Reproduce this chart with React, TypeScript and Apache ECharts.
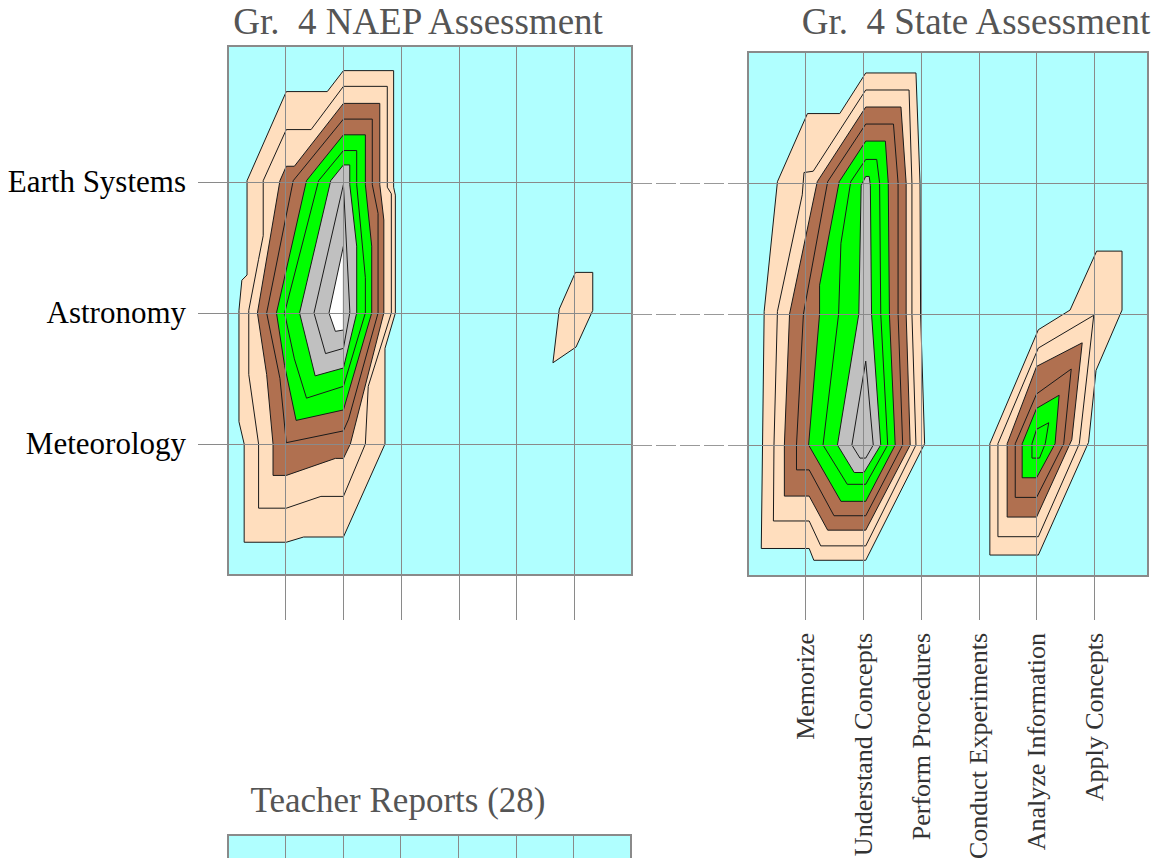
import { useEffect, useRef } from 'react';
import * as echarts from 'echarts';

// ---------- categories ----------
const demands = ['Memorize', 'Understand Concepts', 'Perform Procedures', 'Conduct Experiments', 'Analyze Information', 'Apply Concepts'];
const topics = ['Earth Systems', 'Astronomy', 'Meteorology'];
const demandTicks = [1, 2, 3, 4, 5, 6];
const topicTicks = [1, 2, 3];

// contour level fill colours (level 1 = outermost)
const levelColors = ['#FFDEBE', '#FFDEBE', '#B07050', '#B07050', '#00FF00', '#00FF00', '#C0C0C0', '#C0C0C0', '#FFFFFF'];

// ---------- Gr. 4 NAEP contours: [demand, topic] ----------
const naepL1 = [[2.0,0.15],[2.87,0.15],[2.87,1.04],[2.90,1.10],[2.90,2.0],[2.72,2.27],[2.72,3.0],[2.0,3.71],[1.31,3.71],[1.01,3.75],[0.28,3.75],[0.28,3.0],[0.19,2.83],[0.19,1.98],[0.24,1.75],[0.33,1.71],[0.33,0.99],[1.01,0.31],[1.72,0.31]];
const naepL2 = [[2.0,0.27],[2.76,0.27],[2.76,1.04],[2.83,1.09],[2.83,2.0],[2.43,2.56],[2.38,3.0],[2.0,3.40],[1.61,3.40],[1.01,3.49],[0.53,3.49],[0.53,3.0],[0.36,2.47],[0.36,1.98],[0.53,1.59],[0.61,1.41],[0.61,0.99],[1.01,0.6],[1.44,0.6]];
const naepL3 = [[2.0,0.40],[2.63,0.40],[2.63,1.02],[2.70,1.29],[2.70,2.0],[2.12,3.0],[2.0,3.11],[1.86,3.11],[1.01,3.24],[0.78,3.24],[0.78,3.0],[0.67,2.47],[0.51,2.0],[0.90,0.99],[1.01,0.88],[1.15,0.88]];
const naepL4 = [[2.0,0.52],[2.5,0.52],[2.5,1.02],[2.6,1.24],[2.6,2.0],[2.09,2.81],[2.0,2.90],[1.01,2.99],[0.9,2.5],[0.67,2.0],[1.13,0.99]];
const naepL5 = [[2.0,0.64],[2.38,0.64],[2.38,1.02],[2.49,1.49],[2.49,2.0],[2.0,2.74],[1.18,2.82],[0.98,2.4],[0.84,2.0],[1.36,0.99]];
const naepL6 = [[2.0,0.76],[2.23,0.76],[2.23,1.02],[2.38,1.73],[2.38,2.0],[2.0,2.56],[1.36,2.65],[1.15,2.35],[0.98,2.0],[1.57,0.99]];
const naepL7 = [[2.0,0.87],[2.11,0.87],[2.11,1.02],[2.23,1.49],[2.23,2.0],[2.0,2.42],[1.51,2.48],[1.24,2.0],[1.78,0.99]];
const naepL8 = [[2.0,1.02],[2.11,1.98],[2.11,2.0],[2.0,2.27],[1.69,2.31],[1.49,2.0]];
const naepL9 = [[2.0,1.49],[2.0,2.13],[1.86,2.14],[1.75,2.0]];
const naepApplyL1 = [[6.02,1.69],[6.32,1.69],[6.32,1.98],[6.03,2.26],[5.63,2.38],[5.74,1.97]];

// ---------- Gr. 4 State contours ----------
const stateL1 = [[2.04,0.16],[2.91,0.16],[2.98,1.0],[2.99,2.0],[3.06,2.99],[2.04,3.88],[1.14,3.88],[1.06,3.79],[0.23,3.79],[0.28,1.98],[0.51,0.99],[1.03,0.47],[1.59,0.47]];
const stateL2 = [[2.04,0.29],[2.79,0.29],[2.84,1.0],[2.84,2.0],[2.91,3.0],[2.04,3.77],[1.26,3.77],[1.06,3.58],[0.44,3.58],[0.45,3.0],[0.51,1.98],[0.94,1.09],[0.97,0.92],[1.13,0.91]];
const stateL3 = [[2.04,0.42],[2.65,0.42],[2.74,1.0],[2.74,2.0],[2.81,3.0],[2.04,3.65],[1.38,3.65],[1.06,3.39],[0.63,3.39],[0.63,3.0],[0.72,2.0],[1.20,0.99]];
const stateL4 = [[2.04,0.55],[2.52,0.55],[2.6,1.0],[2.6,2.0],[2.68,3.0],[2.04,3.54],[1.49,3.54],[1.06,3.19],[0.84,3.19],[0.84,3.0],[0.96,2.0],[1.38,0.99]];
const stateL5 = [[2.04,0.68],[2.38,0.68],[2.43,1.0],[2.45,2.0],[2.55,3.0],[2.04,3.43],[1.61,3.43],[1.05,3.0],[1.24,2.0],[1.24,1.78],[1.58,0.99]];
const stateL6 = [[2.04,0.82],[2.23,0.82],[2.28,1.0],[2.3,2.0],[2.42,3.0],[2.04,3.30],[1.72,3.30],[1.30,3.0],[1.57,2.0],[1.61,1.46],[1.78,0.99]];
const stateL7 = [[2.04,0.95],[2.10,0.95],[2.12,1.02],[2.14,2.0],[2.30,3.0],[2.01,3.21],[1.84,3.21],[1.55,3.0],[1.92,2.0],[1.96,1.02]];
const stateL8 = [[2.04,2.36],[2.17,3.0],[2.04,3.10],[1.94,3.10],[1.80,3.0]];
const stateAnalyzeL1 = [[6.04,1.52],[6.48,1.52],[6.48,1.97],[6.03,2.43],[5.90,2.98],[5.03,3.84],[4.19,3.84],[4.19,2.99],[5.03,2.12],[5.58,1.97]];
const stateAnalyzeL2 = [[5.99,2.01],[5.74,2.99],[5.03,3.70],[4.33,3.70],[4.33,2.99],[5.03,2.26]];
const stateAnalyzeL3 = [[5.0,2.40],[5.79,2.22],[5.61,2.96],[5.0,3.55],[4.49,3.55],[4.49,2.99]];
const stateAnalyzeL4 = [[5.0,2.61],[5.60,2.42],[5.47,2.99],[5.0,3.40],[4.63,3.40],[4.63,2.99]];
const stateAnalyzeL5 = [[5.0,2.72],[5.39,2.62],[5.32,2.99],[5.0,3.25],[4.75,3.25],[4.75,2.99]];
const stateAnalyzeL6 = [[5.0,2.88],[5.21,2.83],[5.15,2.99],[5.05,3.10],[4.92,3.10],[4.92,2.99]];

const naepContours = [
  { level: 1, points: naepL1 }, { level: 2, points: naepL2 }, { level: 3, points: naepL3 },
  { level: 4, points: naepL4 }, { level: 5, points: naepL5 }, { level: 6, points: naepL6 },
  { level: 7, points: naepL7 }, { level: 8, points: naepL8 }, { level: 9, points: naepL9 },
  { level: 1, points: naepApplyL1 },
];
const stateContours = [
  { level: 1, points: stateL1 }, { level: 2, points: stateL2 }, { level: 3, points: stateL3 },
  { level: 4, points: stateL4 }, { level: 5, points: stateL5 }, { level: 6, points: stateL6 },
  { level: 7, points: stateL7 }, { level: 8, points: stateL8 },
  { level: 1, points: stateAnalyzeL1 }, { level: 2, points: stateAnalyzeL2 }, { level: 3, points: stateAnalyzeL3 },
  { level: 4, points: stateAnalyzeL4 }, { level: 5, points: stateAnalyzeL5 }, { level: 6, points: stateAnalyzeL6 },
];

const CYAN = '#B0FFFF';
const GRID_GRAY = '#8a8a8a';
const SERIF = '"Liberation Serif", "Times New Roman", serif';

function contourSeries(contours: any[], axisIndex: number) {
  return {
    type: 'custom',
    coordinateSystem: 'cartesian2d',
    xAxisIndex: axisIndex,
    yAxisIndex: axisIndex,
    clip: true,
    silent: true,
    z: 2,
    data: contours.map((c, i) => [c.points[0][0], c.points[0][1], i]),
    renderItem: (params: any, api: any) => {
      const c = contours[params.dataIndex];
      const pts = c.points.map((p: number[]) => api.coord(p));
      return {
        type: 'polygon',
        shape: { points: pts },
        style: { fill: levelColors[c.level - 1], stroke: '#1a1a1a', lineWidth: 1 },
      };
    },
  };
}

export default function App() {
  const ref = useRef<HTMLDivElement>(null);
  useEffect(() => {
    if (!ref.current) return;
    const chart = echarts.init(ref.current, undefined, { renderer: 'svg' });
    const splitLine = { show: true, lineStyle: { color: GRID_GRAY, width: 1 } };
    const hiddenLine = { show: false, onZero: false };
    const gridBase = { show: true, backgroundColor: CYAN, borderColor: GRID_GRAY, borderWidth: 2, containLabel: false, outerBoundsMode: 'none' };
    const option: any = {
      animation: false,
      backgroundColor: '#ffffff',
      grid: [
        { ...gridBase, left: 228, top: 46, width: 404, height: 529 },
        { ...gridBase, left: 748, top: 52, width: 400, height: 524 },
        { ...gridBase, left: 228, top: 835, width: 403, height: 200 },
      ],
      xAxis: [
        {
          gridIndex: 0, type: 'value', min: 0, max: 7, z: 3, position: 'bottom',
          axisLine: hiddenLine,
          axisTick: { show: true, customValues: demandTicks, length: 45, lineStyle: { color: GRID_GRAY } },
          axisLabel: { show: false },
          splitLine,
        },
        {
          gridIndex: 1, type: 'value', min: 0, max: 6.93, z: 3, position: 'bottom',
          axisLine: hiddenLine,
          axisTick: { show: true, customValues: demandTicks, length: 44, lineStyle: { color: GRID_GRAY } },
          axisLabel: {
            show: true, customValues: demandTicks, rotate: 90, margin: 57,
            formatter: (v: number) => demands[Math.round(v) - 1] ?? '',
            fontFamily: SERIF, fontSize: 26, color: '#333',
          },
          splitLine,
        },
        {
          gridIndex: 2, type: 'value', min: 0, max: 7, z: 3, position: 'bottom',
          axisLine: hiddenLine,
          axisTick: { show: false, customValues: demandTicks },
          axisLabel: { show: false },
          splitLine,
        },
      ],
      yAxis: [
        {
          gridIndex: 0, type: 'value', inverse: true, min: -0.038, max: 4, z: 3, position: 'left',
          axisLine: hiddenLine,
          axisTick: { show: true, customValues: topicTicks, length: 30, lineStyle: { color: GRID_GRAY } },
          axisLabel: {
            show: true, customValues: topicTicks, margin: 42,
            formatter: (v: number) => topics[Math.round(v) - 1] ?? '',
            fontFamily: SERIF, fontSize: 31, color: '#000',
          },
          splitLine,
        },
        {
          gridIndex: 1, type: 'value', inverse: true, min: 0, max: 4, z: 3, position: 'left',
          axisLine: hiddenLine,
          axisTick: { show: true, customValues: topicTicks, length: 116, lineStyle: { color: '#999', type: [20, 4] } },
          axisLabel: { show: false },
          splitLine,
        },
        {
          gridIndex: 2, type: 'value', inverse: true, min: 0, max: 4, z: 3, position: 'left',
          axisLine: hiddenLine,
          axisTick: { show: false },
          axisLabel: { show: false },
          splitLine: { show: false },
        },
      ],
      graphic: [
        { type: 'text', x: 418, y: 21, style: { text: 'Gr.  4 NAEP Assessment', font: `37px ${SERIF}`, fill: '#555', textAlign: 'center', textVerticalAlign: 'middle' } },
        { type: 'text', x: 976, y: 21, style: { text: 'Gr.  4 State Assessment', font: `37px ${SERIF}`, fill: '#555', textAlign: 'center', textVerticalAlign: 'middle' } },
        { type: 'text', x: 398, y: 800, style: { text: 'Teacher Reports (28)', font: `35px ${SERIF}`, fill: '#555', textAlign: 'center', textVerticalAlign: 'middle' } },
      ],
      series: [contourSeries(naepContours, 0), contourSeries(stateContours, 1)],
    };
    chart.setOption(option);
    return () => chart.dispose();
  }, []);
  return <div ref={ref} style={{ position: 'absolute', left: 0, top: 0, width: 1165, height: 858 }} />;
}
